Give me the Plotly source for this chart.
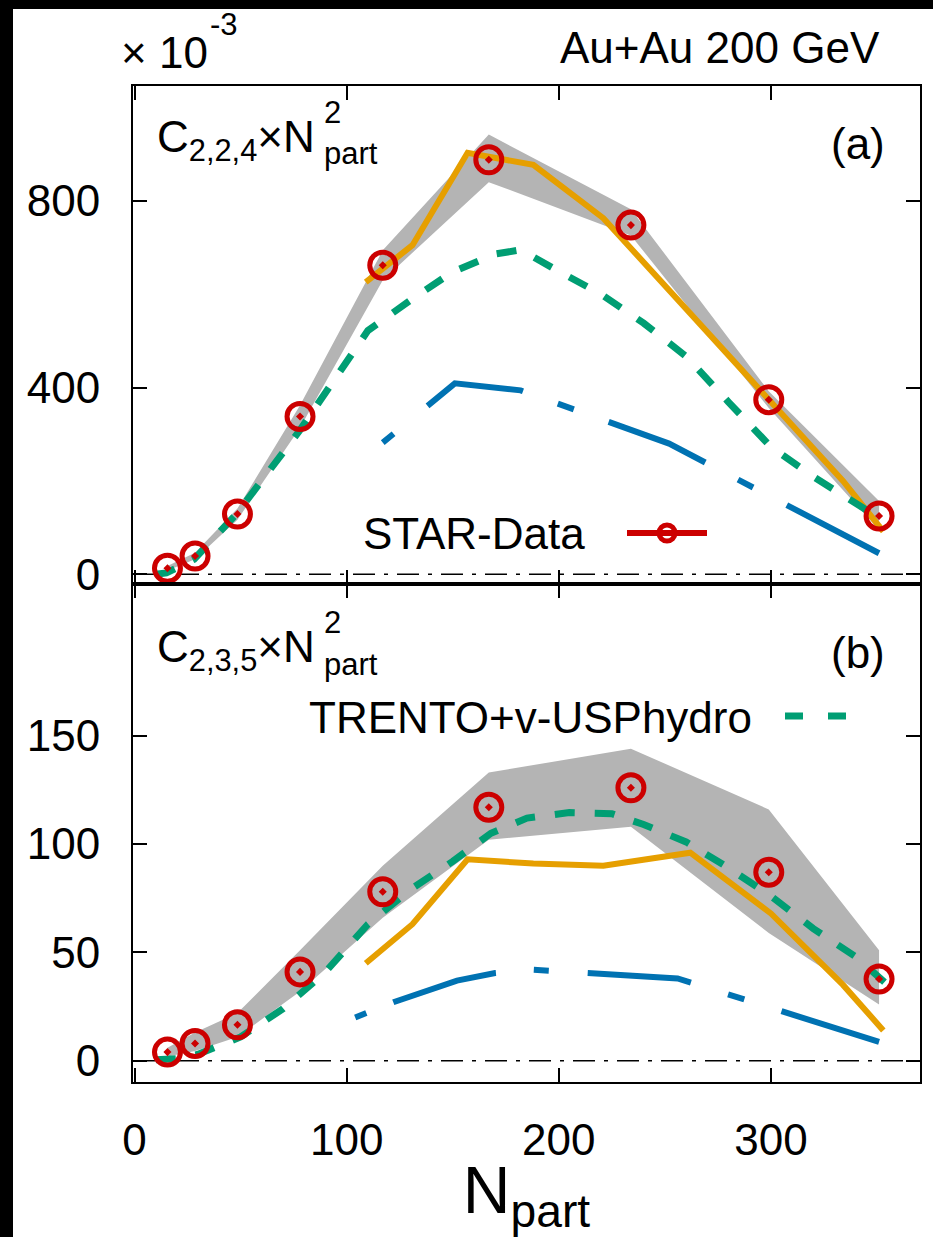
import plotly.graph_objects as go
from plotly.subplots import make_subplots

# ---------------- data ----------------
npart_data = [15.5, 28.5, 48.5, 78, 117, 167, 234, 299, 351]
c224_data = [13, 39, 129, 338, 662, 888, 748, 374, 125]
c224_sys_hi = [18, 46, 141, 362, 694, 942, 782, 392, 157]
c224_sys_lo = [8, 32, 117, 314, 630, 840, 726, 356, 95]
c235_data = [4, 8, 16.6, 41, 78, 117, 126, 87, 37.7]
c235_sys_hi = [6, 13, 22, 51, 90, 133, 144, 116, 51]
c235_sys_lo = [2, 4.5, 11, 32, 66, 102, 108, 59, 26]

npart_orange = [109, 131, 157, 188, 221, 262, 300, 334, 353]
c224_orange = [626, 705, 903, 877, 763, 559, 372, 200, 92]
c235_orange = [45, 63, 93, 91, 90, 96, 68, 35, 14]

npart_green_a = [10, 15, 28, 48, 78, 95, 110, 130, 150, 170, 182, 200, 220, 240, 260, 280, 300, 320, 340, 352]
c224_green = [0, 3, 32, 129, 309, 420, 522, 587, 648, 686, 695, 649, 600, 538, 467, 369, 273, 209, 153, 118]
npart_green_b = [10, 20, 30, 50, 70, 90, 110, 130, 150, 168, 185, 205, 225, 240, 260, 280, 300, 320, 340, 355]
c235_green = [0.5, 1, 3, 11, 24, 41, 63, 79, 92, 105, 112, 114.5, 114, 109, 101, 89, 76, 61, 48, 35]

npart_blue_a = [117, 151, 182, 252, 351]
c224_blue = [282, 409, 394, 280, 45]
npart_blue_b = [104, 122, 152, 170, 188, 256, 351]
c235_blue = [20, 27, 37, 40.5, 42, 38, 8.7]

x_ticks = [0, 100, 200, 300]
y_ticks_a = [0, 400, 800]
y_ticks_b = [0, 50, 100, 150]

# ---------------- style ----------------
RED = "#cc0000"
ORANGE = "#e69f00"
GREEN = "#009e73"
BLUE = "#0072b2"
GRAY = "#b4b4b4"
FONT = "Liberation Sans, Arial, Helvetica, sans-serif"
FS = 44
BLUE_DASH_A = "14px,44px,104px,37px,17px,37px,105px,37px,17px,38px,105px,40px"
BLUE_DASH_B = "12px,29px,107px,38px,15px,39px,104px,39px,17px,39px,105px,40px"

W, H = 933, 1237
L, R, T, B = 133, 13, 86, 155
PW, PH = W - L - R, H - T - B


def px(xp):
    return (xp - L) / PW


def py(yp):
    return (H - B - yp) / PH


fig = make_subplots(rows=2, cols=1, shared_xaxes=True, vertical_spacing=0)

panels = [
    (1, c224_data, c224_sys_hi, c224_sys_lo, c224_orange, npart_green_a, c224_green, npart_blue_a, c224_blue, BLUE_DASH_A),
    (2, c235_data, c235_sys_hi, c235_sys_lo, c235_orange, npart_green_b, c235_green, npart_blue_b, c235_blue, BLUE_DASH_B),
]

for row, d, hi, lo, orr, gx, gy, bx, by, bdash in panels:
    fig.add_trace(go.Scatter(x=npart_data + npart_data[::-1], y=hi + lo[::-1], fill="toself",
                             fillcolor=GRAY, line=dict(width=0), mode="lines", showlegend=False,
                             hoverinfo="skip"), row=row, col=1)
    fig.add_trace(go.Scatter(x=npart_orange, y=orr, mode="lines",
                             line=dict(color=ORANGE, width=6), showlegend=False), row=row, col=1)
    fig.add_trace(go.Scatter(x=gx, y=gy, mode="lines",
                             line=dict(color=GREEN, width=7, dash="20px,20px"), showlegend=False), row=row, col=1)
    fig.add_trace(go.Scatter(x=bx, y=by, mode="lines",
                             line=dict(color=BLUE, width=6, dash=bdash), showlegend=False),
                  row=row, col=1)
    fig.add_trace(go.Scatter(x=npart_data, y=d, mode="markers",
                             marker=dict(symbol="circle-open-dot", size=26, color=RED,
                                         line=dict(color=RED, width=5)), showlegend=False), row=row, col=1)

# legend-only entries
fig.add_trace(go.Scatter(x=[None], y=[None], mode="lines+markers", name=" ",
                         line=dict(color=RED, width=6),
                         marker=dict(symbol="circle-open", size=22, color=RED, line=dict(color=RED, width=6)),
                         legend="legend"), row=1, col=1)
fig.add_trace(go.Scatter(x=[None], y=[None], mode="lines", name=" ",
                         line=dict(color=GREEN, width=7, dash="18px,25px"),
                         legend="legend2"), row=2, col=1)

axis_common = dict(showline=True, linecolor="black", linewidth=2, mirror="ticks",
                   ticks="inside", ticklen=14, tickwidth=2, tickcolor="black",
                   showgrid=False, zeroline=False,
                   tickfont=dict(family=FONT, size=FS, color="black"))

fig.update_xaxes(range=[-0.75, 370.3], tickvals=x_ticks, **axis_common)
fig.update_xaxes(ticklabelstandoff=18, row=2, col=1,
                 title=dict(text="N<sub>part</sub>", font=dict(family=FONT, size=66, color="black"), standoff=8))
fig.update_yaxes(range=[-20.8, 1046], tickvals=y_ticks_a, ticklabelstandoff=22, row=1, col=1, **axis_common)
fig.update_yaxes(range=[-9.8, 220], tickvals=y_ticks_b, ticklabelstandoff=22, row=2, col=1, **axis_common)

# zero reference lines
for yref in ["y", "y2"]:
    fig.add_shape(type="line", xref="x domain" if yref == "y" else "x2 domain", yref=yref,
                  x0=0, x1=1, y0=0, y1=0, line=dict(color="black", width=1.5, dash="22px,9px,4px,9px"),
                  layer="below")

# black border strips of the original image
fig.add_shape(type="rect", xref="paper", yref="paper", x0=px(0), x1=px(13), y0=py(H), y1=py(0),
              fillcolor="black", line=dict(width=0))
fig.add_shape(type="rect", xref="paper", yref="paper", x0=px(0), x1=px(W), y0=py(9), y1=py(0),
              fillcolor="black", line=dict(width=0))

ann_font = dict(family=FONT, size=FS, color="black")
small_font = dict(family=FONT, size=31, color="black")
annotations = [
    dict(text="× 10", x=px(119), y=py(52), xanchor="left", yanchor="middle"),
    dict(text="-3", x=px(208), y=py(25), xanchor="left", yanchor="middle", font=small_font),
    dict(text="Au+Au 200 GeV", x=px(882), y=py(48), xanchor="right", yanchor="middle"),
    dict(text="C<sub>2,2,4</sub>×N", x=px(155), y=py(140), xanchor="left", yanchor="middle"),
    dict(text="2", x=px(322), y=py(112), xanchor="left", yanchor="middle", font=small_font),
    dict(text="part", x=px(322), y=py(154), xanchor="left", yanchor="middle", font=small_font),
    dict(text="(a)", x=px(887), y=py(143), xanchor="right", yanchor="middle"),
    dict(text="C<sub>2,3,5</sub>×N", x=px(155), y=py(650), xanchor="left", yanchor="middle"),
    dict(text="2", x=px(322), y=py(622), xanchor="left", yanchor="middle", font=small_font),
    dict(text="part", x=px(322), y=py(664), xanchor="left", yanchor="middle", font=small_font),
    dict(text="(b)", x=px(887), y=py(652), xanchor="right", yanchor="middle"),
    dict(text="STAR-Data", x=px(587), y=py(533), xanchor="right", yanchor="middle"),
    dict(text="TRENTO+v-USPhydro", x=px(754), y=py(717), xanchor="right", yanchor="middle"),
]
for a in annotations:
    a.setdefault("font", ann_font)
    fig.add_annotation(xref="paper", yref="paper", showarrow=False, **a)

fig.update_layout(
    width=W, height=H,
    margin=dict(l=L, r=R, t=T, b=B, autoexpand=False),
    paper_bgcolor="white", plot_bgcolor="white",
    font=dict(family=FONT, size=FS, color="black"),
    legend=dict(x=px(622), y=py(533), xanchor="left", yanchor="middle", bgcolor="rgba(0,0,0,0)",
                borderwidth=0, itemwidth=80, font=dict(size=20)),
    legend2=dict(x=px(780), y=py(716), xanchor="left", yanchor="middle", bgcolor="rgba(0,0,0,0)",
                 borderwidth=0, itemwidth=80, font=dict(size=20)),
)

fig.write_html("out.html")
